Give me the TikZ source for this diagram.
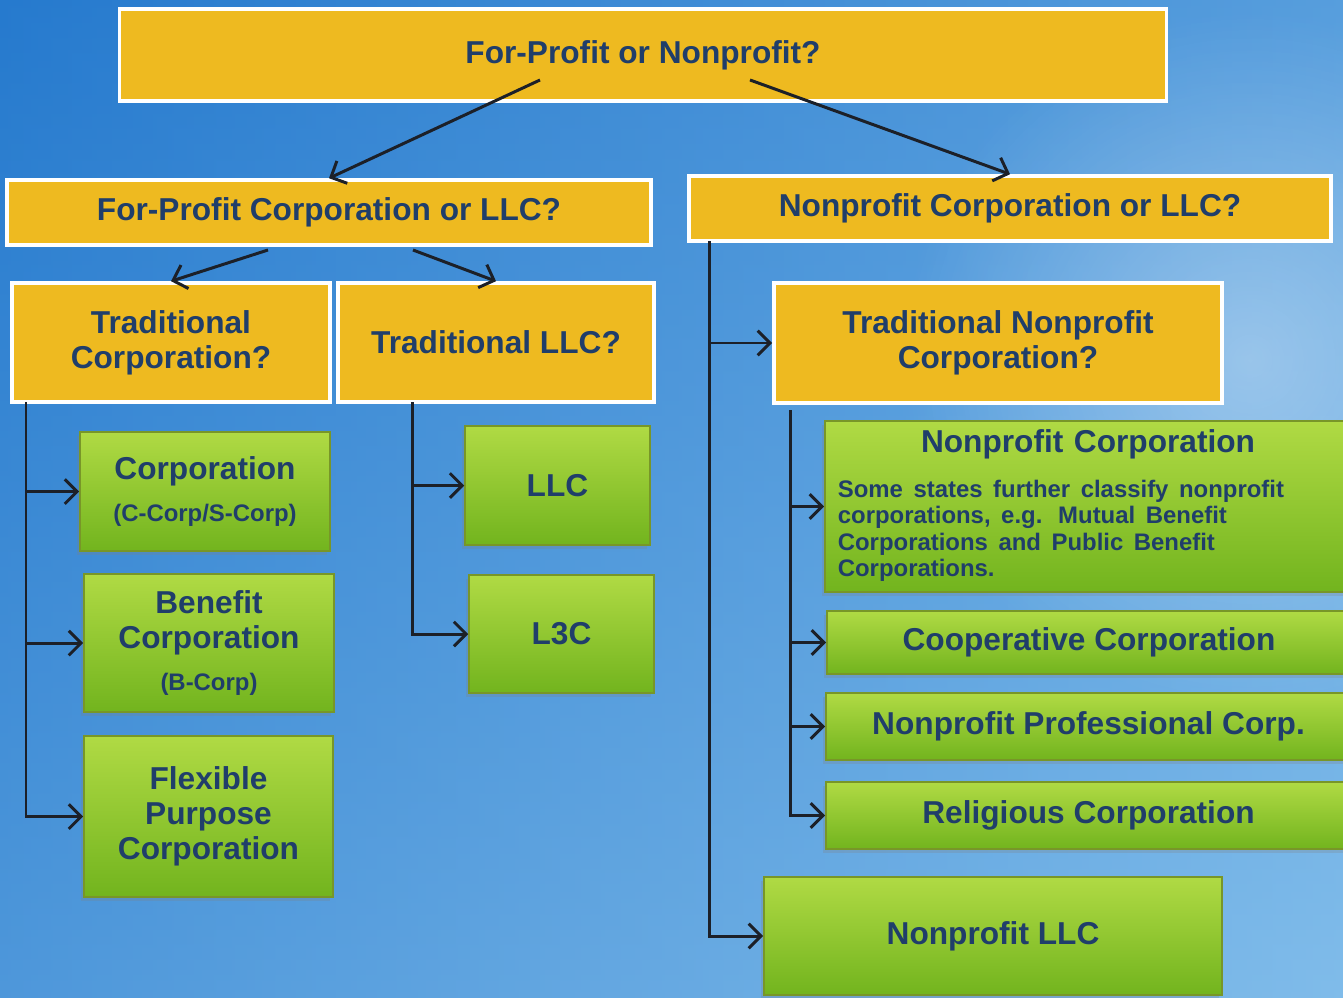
\documentclass[tikz,border=0pt]{standalone}
\usepackage{fontspec}
\setmainfont{Liberation Sans}
\usetikzlibrary{calc, arrows.meta, shadows, fadings}
\tikzfading[name=glow, inner color=transparent!0, outer color=transparent!100]

\begin{document}
\begin{tikzpicture}[x=0.01cm, y=-0.01cm,
    question/.style={draw=white, line width=1pt, fill=questionColour, text=textColour,
        inner sep=0pt, align=center, font=\fontsize{9}{10}\selectfont\bfseries},
    answer/.style={draw=answerBorder, line width=0.4pt, top color=answerTop, bottom color=answerBottom,
        text=textColour, inner sep=0pt, align=center, font=\fontsize{9}{10}\selectfont\bfseries,
        drop shadow={opacity=0.25, shadow xshift=-0.03cm, shadow yshift=-0.04cm}},
    link/.style={draw=linkColour, line width=0.85pt, -{Straight Barb[length=3.5pt, width=7pt]}}]
    % Define colours
    \definecolor{skyDark}{RGB}{38,122,206}
    \definecolor{skyLight}{RGB}{128,188,234}
    \definecolor{questionColour}{RGB}{238,186,32}
    \definecolor{answerTop}{RGB}{176,218,68}
    \definecolor{answerBottom}{RGB}{114,180,30}
    \definecolor{answerBorder}{RGB}{120,150,40}
    \definecolor{textColour}{RGB}{32,62,106}
    \definecolor{linkColour}{RGB}{28,32,40}

    % Define note font
    \def\noteFont{\fontsize{6.8}{7.4}\selectfont}

    % Draw background
    \useasboundingbox (0,0) rectangle (1343,997);
    \clip (0,0) rectangle (1343,997);
    \shade[left color=skyDark, right color=skyLight] (0,0) rectangle (1343,997);
    \shade[top color=skyDark, bottom color=skyLight, opacity=0.45] (0,0) rectangle (1343,997);
    \fill[white, opacity=0.35, path fading=glow] (1250,360) circle (3.5cm);

    % Draw question boxes
    \node[question, minimum width=10.46cm, minimum height=0.92cm] (kind) at (643,55) {For-Profit or Nonprofit?};
    \node[question, minimum width=6.44cm, minimum height=0.65cm] (forprofit) at (329,212.5) {For-Profit Corporation or LLC?};
    \node[question, minimum width=6.42cm, minimum height=0.65cm] (nonprofit) at (1010,208.5) {Nonprofit Corporation or LLC?};
    \node[question, minimum width=3.18cm, minimum height=1.19cm] (tradcorp) at (171,342.5) {Traditional\\Corporation?};
    \node[question, minimum width=3.16cm, minimum height=1.19cm] (tradllc) at (496,342.5) {Traditional LLC?};
    \node[question, minimum width=4.48cm, minimum height=1.20cm] (tradnp) at (998,343) {Traditional Nonprofit\\Corporation?};

    % Draw for-profit answers
    \node[answer, minimum width=2.50cm, minimum height=1.19cm] (corp) at (205,491.5) {Corporation\\[2pt]{\noteFont (C-Corp/S-Corp)}};
    \node[answer, minimum width=2.50cm, minimum height=1.38cm] (benefit) at (209,643) {Benefit\\Corporation\\[2pt]{\noteFont (B-Corp)}};
    \node[answer, minimum width=2.49cm, minimum height=1.61cm] (flexible) at (208.5,816.5) {Flexible\\Purpose\\Corporation};
    \node[answer, minimum width=1.85cm, minimum height=1.19cm] (llc) at (557.5,485.5) {LLC};
    \node[answer, minimum width=1.85cm, minimum height=1.18cm] (lthreec) at (561.5,634) {L3C};

    % Draw nonprofit answers
    \node[answer, minimum width=5.26cm, minimum height=1.71cm, text width=5.0cm] (npcorp) at (1088,506.5)
        {Nonprofit Corporation\\[5pt]
         \makebox[\linewidth][l]{\noteFont\begin{tabular}{@{}l@{}}
            Some states further classify nonprofit\\
            corporations, e.g. Mutual Benefit\\
            Corporations and Public Benefit\\
            Corporations.
         \end{tabular}}};
    \node[answer, minimum width=5.24cm, minimum height=0.63cm] (coop) at (1089,642.5) {Cooperative Corporation};
    \node[answer, minimum width=5.25cm, minimum height=0.67cm] (profcorp) at (1088.5,726.5) {Nonprofit Professional Corp.};
    \node[answer, minimum width=5.25cm, minimum height=0.67cm] (religious) at (1088.5,815.5) {Religious Corporation};
    \node[answer, minimum width=4.58cm, minimum height=1.18cm] (npllc) at (993,936) {Nonprofit LLC};

    % Define connector start points
    \coordinate (kindL) at (540,80);
    \coordinate (kindR) at (750,80);
    \coordinate (forprofitL) at (268,250);
    \coordinate (forprofitR) at (413,250);
    \coordinate (tradcorpS) at (26,402);
    \coordinate (tradllcS) at (412,402);
    \coordinate (nonprofitS) at (709,241);
    \coordinate (tradnpS) at (790,410);

    % Draw connectors
    \draw[link] (kindL) -- (forprofit.north);
    \draw[link] (kindR) -- (nonprofit.north);
    \draw[link] (forprofitL) -- (tradcorp.north);
    \draw[link] (forprofitR) -- (tradllc.north);
    \foreach \target in {corp, benefit, flexible}
        \draw[link] (tradcorpS) |- (\target.west);
    \foreach \target in {llc, lthreec}
        \draw[link] (tradllcS) |- (\target.west);
    \foreach \target in {tradnp, npllc}
        \draw[link] (nonprofitS) |- (\target.west);
    \foreach \target in {npcorp, coop, profcorp, religious}
        \draw[link] (tradnpS) |- (\target.west);

\end{tikzpicture}
\end{document}
